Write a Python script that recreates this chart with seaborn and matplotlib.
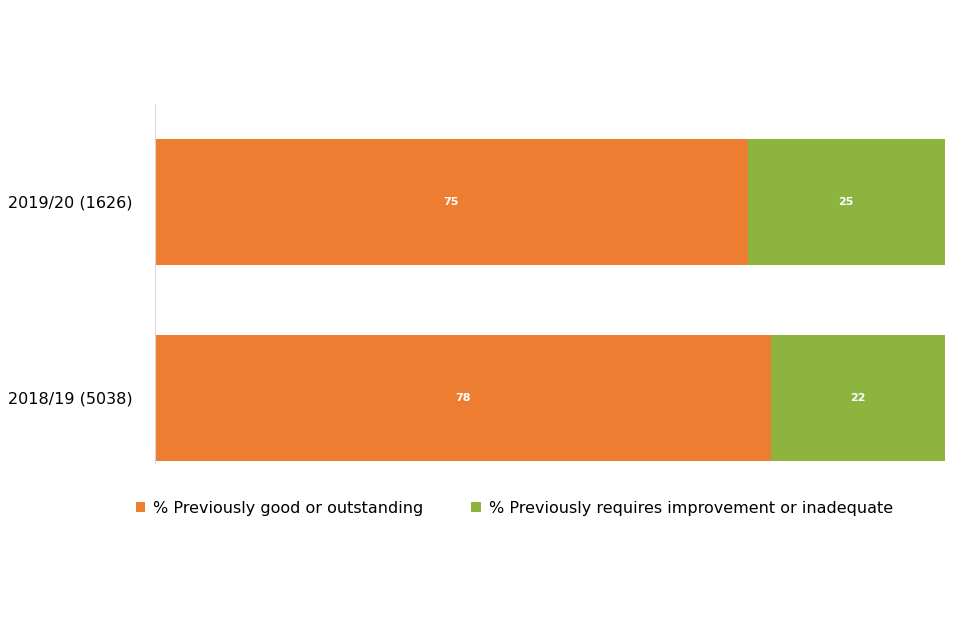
import matplotlib
matplotlib.use("Agg")
import matplotlib.pyplot as plt
import seaborn as sns
import pandas as pd

categories = ["2019/20 (1626)", "2018/19 (5038)"]
good = [75, 78]
requires = [25, 22]
labels = ["% Previously good or outstanding", "% Previously requires improvement or inadequate"]

df = pd.DataFrame({"cat": categories, "good": good, "req": requires})
df["total"] = df["good"] + df["req"]

fig = plt.figure(figsize=(9.6, 6.4), dpi=100)
ax = fig.add_axes([155/960, 1-496/640, 790/960, 392/640])
orange, green = "#ED7D31", "#8CB43F"
sns.barplot(data=df, y="cat", x="total", color=green, width=0.64, ax=ax, label=labels[1], saturation=1)
sns.barplot(data=df, y="cat", x="good", color=orange, width=0.64, ax=ax, label=labels[0], saturation=1)
for i, (g, r) in enumerate(zip(good, requires)):
    ax.text(g/2, i, str(g), color="white", fontsize=8, fontweight="bold", ha="center", va="center")
    ax.text(g + r/2, i, str(r), color="white", fontsize=8, fontweight="bold", ha="center", va="center")
ax.set_xlim(0, 100)
ax.set_xlabel(""); ax.set_ylabel("")
ax.set_xticks([])
ax.tick_params(axis="y", length=0, labelsize=11.5, pad=16)
for s in ["top", "right", "bottom"]:
    ax.spines[s].set_visible(False)
ax.spines["left"].set_color("#D9D9D9")
ax.spines["left"].set_bounds(-0.5, 1.33)
h, l = ax.get_legend_handles_labels()
ax.legend([h[1], h[0]], [l[1], l[0]], loc="upper center", bbox_to_anchor=(0.455, 0.025),
          ncol=2, frameon=False, fontsize=11.5, handlelength=0.6, handleheight=0.6,
          columnspacing=3, handletextpad=0.5)
fig.savefig("out.png", dpi=100)
